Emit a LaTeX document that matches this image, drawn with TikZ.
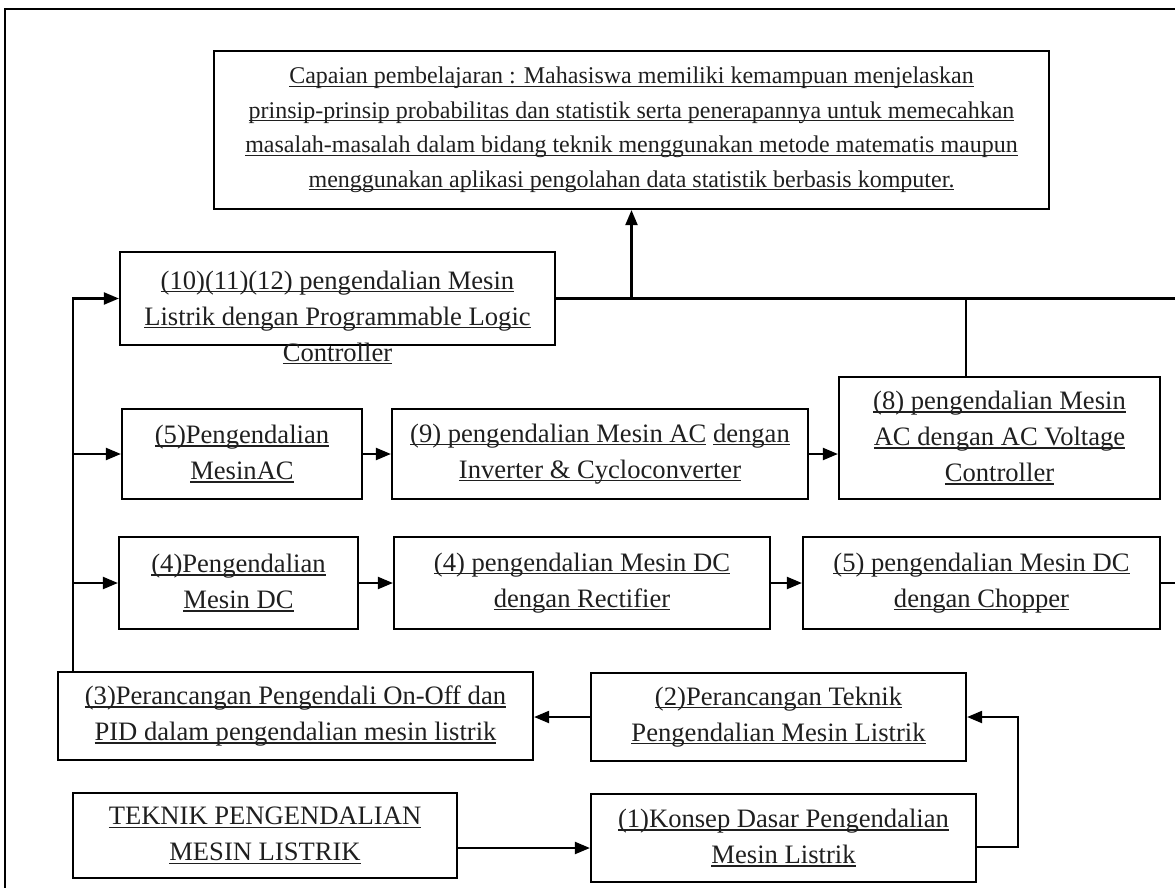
\documentclass[tikz,border=0pt]{standalone}
\usepackage{fontspec}
\setmainfont{Liberation Serif}
\usetikzlibrary{arrows.meta, positioning, calc}
\tikzstyle{kotak} = [draw, line width=2.2pt, align=center, inner sep=0pt, text=black!88, font=\fontsize{26.6}{36}\selectfont]
\tikzstyle{teks} = [align=center, inner sep=0pt, text=black!88, font=\fontsize{26.6}{36}\selectfont]
\tikzstyle{arrow} = [line width=2.1pt, -{Triangle[length=15pt, width=12pt]}]
\tikzstyle{garis} = [line width=2.1pt]
\newcommand{\gb}[1]{\setbox0\hbox{#1}\rlap{\rule[-3pt]{\wd0}{1.3pt}}\box0\relax}

\begin{document}
\begin{tikzpicture}[x=1pt, y=-1pt]
  \useasboundingbox (0,0) rectangle (1175,888);
  \clip (0,0) rectangle (1175,888);
  % Draw outer frame
  \draw[line width=2.8pt] (5,9) rectangle (1200,900);

  % Draw learning outcome box
  \node[kotak, minimum width=835pt, minimum height=158pt, font=\fontsize{24}{34.5}\selectfont] (capaian) at (631.5,130)
    {\gb{Capaian pembelajaran : Mahasiswa memiliki kemampuan menjelaskan}\\
     \gb{prinsip-prinsip probabilitas dan statistik serta penerapannya untuk memecahkan}\\
     \gb{masalah-masalah dalam bidang teknik menggunakan metode matematis maupun}\\
     \gb{menggunakan aplikasi pengolahan data statistik berbasis komputer.}};

  % Draw PLC box (text runs over the bottom edge)
  \node[kotak, minimum width=435pt, minimum height=93pt] (plc) at (337.5,298.5) {};
  \node[teks] (plcteks) at ([yshift=-19pt]plc.center)
    {\gb{(10)(11)(12) pengendalian Mesin}\\
     \gb{Listrik dengan Programmable Logic}\\
     \gb{Controller}};

  % Draw AC row
  \node[kotak, minimum width=240pt, minimum height=90pt] (ac1) at (242,454)
    {\gb{(5)Pengendalian}\\ \gb{MesinAC}};
  \node[kotak, minimum width=416pt, minimum height=90pt] (ac2) at (600,454)
    {\gb{(9) pengendalian Mesin AC} \gb{dengan}\\ \gb{Inverter \& Cycloconverter}};
  \node[kotak, minimum width=321pt, minimum height=122pt] (ac3) at (999.5,438)
    {\gb{(8) pengendalian Mesin}\\ \gb{AC dengan AC Voltage}\\ \gb{Controller}};

  % Draw DC row
  \node[kotak, minimum width=239pt, minimum height=92pt] (dc1) at (238.5,583)
    {\gb{(4)Pengendalian}\\ \gb{Mesin DC}};
  \node[kotak, minimum width=376pt, minimum height=92pt] (dc2) at (582,583)
    {\gb{(4) pengendalian Mesin DC}\\ \gb{dengan Rectifier}};
  \node[kotak, minimum width=357pt, minimum height=92pt] (dc3) at (981.5,583)
    {\gb{(5) pengendalian Mesin DC}\\ \gb{dengan Chopper}};

  % Draw design boxes
  \node[kotak, minimum width=475pt, minimum height=88pt] (pid) at (295.5,716)
    {\gb{(3)Perancangan Pengendali On-Off dan}\\ \gb{PID dalam pengendalian mesin listrik}};
  \node[kotak, minimum width=375pt, minimum height=88pt] (ptk) at (778.5,717)
    {\gb{(2)Perancangan Teknik}\\ \gb{Pengendalian Mesin Listrik}};

  % Draw bottom row
  \node[kotak, minimum width=384pt, minimum height=85pt] (judul) at (265,835.5)
    {\gb{TEKNIK PENGENDALIAN}\\ \gb{MESIN LISTRIK}};
  \node[kotak, minimum width=385pt, minimum height=88pt] (konsep) at (783.5,838)
    {\gb{(1)Konsep Dasar Pengendalian}\\ \gb{Mesin Listrik}};

  % Connectors at the bottom
  \coordinate (j1) at ([yshift=-12.5pt]judul.east);
  \draw[arrow] (j1) -- (j1 -| konsep.west);
  \coordinate (k1) at ([yshift=-9pt]konsep.east);
  \draw[arrow] (k1) -- ++(41,0) |- (ptk.east);
  \draw[arrow] (ptk.west) -- (ptk.west -| pid.east);

  % Left trunk
  \coordinate (batang) at (73,672);
  \draw[arrow] (batang) |- (plc.west);
  \draw[arrow] (batang |- ac1.west) -- (ac1.west);
  \draw[arrow] (batang |- dc1.west) -- (dc1.west);

  % Row connectors
  \draw[arrow] (ac1.east) -- (ac2.west);
  \draw[arrow] (ac2.east) -- (ac2.east -| ac3.west);
  \draw[arrow] (dc1.east) -- (dc2.west);
  \draw[arrow] (dc2.east) -- (dc3.west);

  % Lines to the learning outcome
  \draw[arrow] (plc.east) -| (capaian.south);
  \draw[garis] (plc.east -| capaian.south) -- (1190,298.5);
  \coordinate (a3) at ([xshift=-33.5pt]ac3.north);
  \draw[garis] (a3) -- (a3 |- plc.east);
  \draw[garis] (dc3.east) -- ++(40,0);
\end{tikzpicture}
\end{document}
